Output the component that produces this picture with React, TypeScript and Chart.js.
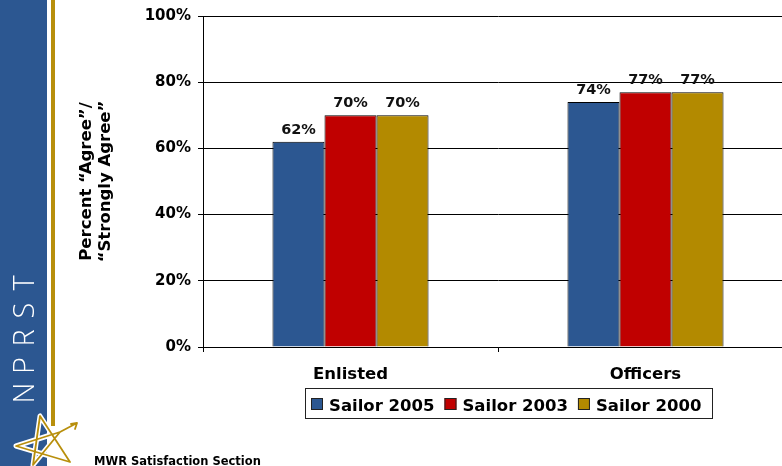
import React, { useEffect, useRef } from "react";
import { Chart, registerables } from "chart.js";

Chart.register(...registerables);

// ---------- data ----------
const categories = ["Enlisted", "Officers"];
const seriesLabels = ["Sailor 2005", "Sailor 2003", "Sailor 2000"];
const sailor2005 = [62, 74];
const sailor2003 = [70, 77];
const sailor2000 = [70, 77];
const yTickValues = [0, 20, 40, 60, 80, 100];
const yTitleLines = ["Percent \u201CAgree\u201D/", "\u201CStrongly Agree\u201D"];
const brandLetters = ["N", "P", "R", "S", "T"];
const footerText = "MWR Satisfaction Section";

// ---------- styles ----------
const seriesColors = ["#2C5791", "#C00000", "#B38A00"];
const SIDEBAR_BLUE = "#2C5791";
const GOLD = "#B88F0C";
const FONT = '"DejaVu Sans", Verdana, sans-serif';

const CANVAS_W = 800;
const CANVAS_H = 466;

const decorPlugin = {
  id: "decor",
  beforeDraw(chart: any) {
    const ctx = chart.ctx;
    ctx.save();
    ctx.fillStyle = "#ffffff";
    ctx.fillRect(0, 0, CANVAS_W, CANVAS_H);
    // sidebar
    ctx.fillStyle = SIDEBAR_BLUE;
    ctx.fillRect(0, 0, 47, CANVAS_H);
    ctx.fillStyle = GOLD;
    ctx.fillRect(51, 0, 4, 426);
    // brand letters
    ctx.fillStyle = "#ffffff";
    ctx.font = `300 29px "Open Sans", ${FONT}`;
    ctx.textAlign = "center";
    ctx.textBaseline = "middle";
    brandLetters.forEach((ch, i) => {
      ctx.save();
      ctx.translate(25, 393 - i * 27.5);
      ctx.rotate(-Math.PI / 2);
      ctx.fillText(ch, 0, 1);
      ctx.restore();
    });
    // star logo
    const T = [40, 416], L = [16, 446], R = [60, 432], BL = [33, 465], BR = [70, 462];
    const tip = [77, 423];
    const path = () => {
      ctx.beginPath();
      ctx.moveTo(T[0], T[1]);
      ctx.lineTo(BL[0], BL[1]);
      ctx.lineTo(R[0], R[1]);
      ctx.lineTo(L[0], L[1]);
      ctx.lineTo(BR[0], BR[1]);
      ctx.closePath();
      ctx.moveTo(R[0], R[1]);
      ctx.lineTo(tip[0], tip[1]);
      ctx.moveTo(tip[0], tip[1]);
      ctx.lineTo(tip[0] - 6, tip[1] + 1);
      ctx.moveTo(tip[0], tip[1]);
      ctx.lineTo(tip[0] - 2, tip[1] + 6);
    };
    ctx.lineJoin = "round";
    ctx.lineCap = "round";
    ctx.strokeStyle = "#ffffff";
    ctx.lineWidth = 5;
    path();
    ctx.stroke();
    ctx.strokeStyle = GOLD;
    ctx.lineWidth = 1.8;
    path();
    ctx.stroke();
    ctx.restore();
  },
  afterDatasetsDraw(chart: any) {
    const ctx = chart.ctx;
    ctx.save();
    ctx.fillStyle = "#111111";
    ctx.font = `bold 14.5px ${FONT}`;
    ctx.textAlign = "center";
    ctx.textBaseline = "alphabetic";
    chart.data.datasets.forEach((ds: any, di: number) => {
      const meta = chart.getDatasetMeta(di);
      meta.data.forEach((el: any, i: number) => {
        ctx.fillText(`${ds.data[i]}%`, el.x, el.y - 8);
      });
    });
    ctx.restore();
  },
  afterDraw(chart: any) {
    const ctx = chart.ctx;
    ctx.save();
    // legend
    ctx.strokeStyle = "#222222";
    ctx.lineWidth = 1;
    ctx.strokeRect(305.5, 388.5, 407, 30);
    ctx.font = `bold 16.5px ${FONT}`;
    ctx.textAlign = "left";
    ctx.textBaseline = "alphabetic";
    let x = 311;
    chart.data.datasets.forEach((ds: any) => {
      ctx.fillStyle = ds.backgroundColor;
      ctx.fillRect(x, 398, 12, 12);
      ctx.strokeStyle = "#222222";
      ctx.strokeRect(x + 0.5, 398.5, 11, 11);
      ctx.fillStyle = "#000000";
      const tx = x + 18;
      ctx.fillText(ds.label, tx, 411);
      x = tx + ctx.measureText(ds.label).width + 10;
    });
    // footer
    ctx.font = `bold 11.5px ${FONT}`;
    ctx.fillStyle = "#000000";
    ctx.fillText(footerText, 94, 465);
    ctx.restore();
  },
};

export default function App() {
  const canvasRef = useRef<HTMLCanvasElement | null>(null);

  useEffect(() => {
    const canvas = canvasRef.current;
    if (!canvas) return;
    const chart = new Chart(canvas, {
      type: "bar",
      data: {
        labels: categories,
        datasets: [sailor2005, sailor2003, sailor2000].map((d, i) => ({
          label: seriesLabels[i],
          data: d,
          backgroundColor: seriesColors[i],
          borderColor: "#000000",
          borderWidth: 1,
          barPercentage: 1,
          categoryPercentage: 0.529,
        })),
      },
      options: {
        responsive: false,
        animation: false,
        devicePixelRatio: 1,
        layout: { padding: { left: 72, right: 7, top: 16, bottom: 0 } },
        plugins: {
          legend: { display: false },
          tooltip: { enabled: false },
          title: { display: false },
        },
        scales: {
          x: {
            offset: true,
            grid: {
              offset: true,
              drawOnChartArea: false,
              drawTicks: true,
              tickLength: 5,
              color: "#000000",
            },
            border: { display: true, color: "#000000", width: 1 },
            ticks: {
              color: "#000000",
              font: { family: FONT, size: 16.5, weight: "bold" },
              padding: 13,
            },
            afterFit: (s: any) => {
              s.height = 119;
            },
          },
          y: {
            min: 0,
            max: 100,
            afterBuildTicks: (s: any) => {
              s.ticks = yTickValues.map((v) => ({ value: v }));
            },
            grid: {
              color: "#000000",
              lineWidth: 1,
              drawTicks: true,
              tickLength: 5,
            },
            border: { display: true, color: "#000000", width: 1 },
            ticks: {
              color: "#000000",
              font: { family: FONT, size: 15, weight: "bold" },
              padding: 7,
              callback: (v: any) => `${v}%`,
            },
            title: {
              display: true,
              text: yTitleLines,
              color: "#000000",
              font: { family: FONT, size: 16.5, weight: "bold", lineHeight: 1.15 },
              padding: { top: 5, bottom: 0 },
            },
            afterFit: (s: any) => {
              s.width = 131;
            },
          },
        },
      },
      plugins: [decorPlugin],
    });
    return () => chart.destroy();
  }, []);

  return (
    <div
      style={{
        position: "absolute",
        left: 0,
        top: 0,
        width: 782,
        height: 466,
        overflow: "hidden",
        background: "#ffffff",
      }}
    >
      <canvas
        ref={canvasRef}
        width={CANVAS_W}
        height={CANVAS_H}
        style={{ width: CANVAS_W, height: CANVAS_H, display: "block" }}
      />
    </div>
  );
}
